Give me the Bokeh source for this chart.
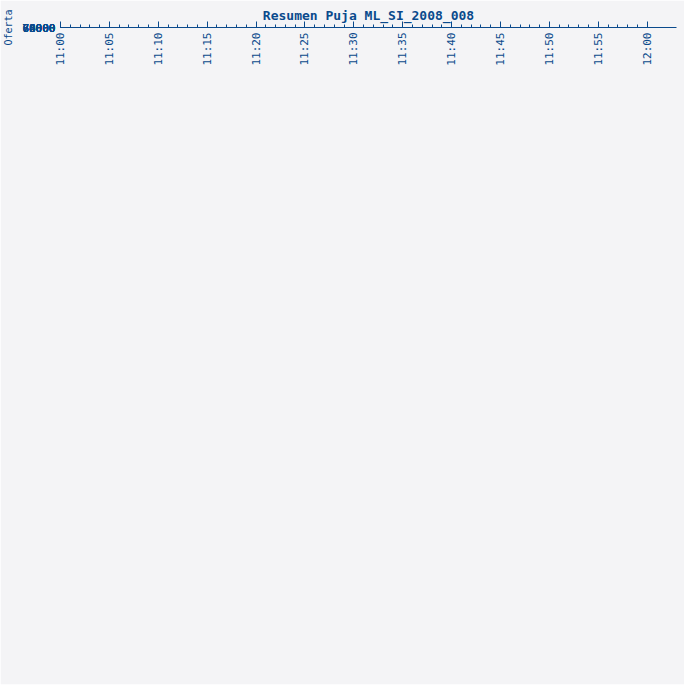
from bokeh.plotting import figure
from bokeh.models import Legend, LegendItem, Label, FixedTicker, ColumnDataSource
from bokeh.embed import file_html
from bokeh.resources import INLINE

series = ["Campoverde Garcia Domicio Djadimir", "ICEBERGCORP S.A.", "FAVEN MUEBLES"]
times = [[29.4, 60.0], [5.1, 11.4, 59.3], [3.1, 59.9]]
values = [[69750.0, 65000.0], [74884.5, 70724.2, 66564.0], [79043.0, 69700.0]]
colors = ["#e89c10", "#f4b07a", "#d0407c"]
xticks = list(range(0, 61, 5))
xlabels = ["11:%02d" % m if m < 60 else "12:00" for m in xticks]

FONT = "DejaVu Sans Mono"
BLUE = "#0a4a8c"
p = figure(width=684, height=684, output_backend="svg", toolbar_location=None,
           x_range=(0, 63), y_range=(64000, 80000),
           min_border_left=54, min_border_top=23, min_border_right=8, min_border_bottom=40,
           background_fill_color="white", border_fill_color="#f4f4f6")
p.outline_line_color = None
p.title.text = "Resumen Puja ML_SI_2008_008"
p.title.align = "center"
p.title.text_font = FONT
p.title.text_font_size = "13px"
p.title.text_color = BLUE

p.xgrid.grid_line_color = None
p.ygrid.grid_line_color = "#e2e2e2"

for ax in (p.xaxis[0], p.yaxis[0]):
    ax.axis_line_color = BLUE
    ax.major_tick_line_color = BLUE
    ax.minor_tick_line_color = BLUE
    ax.major_label_text_color = BLUE
    ax.major_label_text_font = FONT
    ax.major_label_text_font_size = "11px"
    ax.axis_label_text_font = FONT
    ax.axis_label_text_color = BLUE
    ax.axis_label_text_font_size = "10px"
    ax.axis_label_text_font_style = "normal"
    ax.major_tick_in = 6
    ax.major_tick_out = 0
    ax.minor_tick_in = 3
    ax.minor_tick_out = 0

p.xaxis.ticker = FixedTicker(ticks=xticks, minor_ticks=list(range(0, 61)))
p.xaxis.major_label_overrides = {t: l for t, l in zip(xticks, xlabels)}
p.xaxis.major_label_orientation = 1.5708
p.yaxis.ticker = FixedTicker(ticks=list(range(64000, 80001, 2000)),
                             minor_ticks=list(range(64000, 80001, 500)))
p.yaxis.axis_label = "Oferta"

items = []
for name, xs, ys, c in zip(series, times, values, colors):
    src = ColumnDataSource(dict(x=xs, y=ys, t=["%.1f" % v for v in ys]))
    r1 = p.line("x", "y", source=src, color=c, line_width=1)
    r2 = p.scatter("x", "y", source=src, marker="diamond", size=6, color=c)
    p.text("x", "y", text="t", source=src, text_font_size="11px",
           text_color="#000066", text_align="center", text_baseline="bottom",
           y_offset=-5, text_font={"value": FONT})
    items.append(LegendItem(label=name, renderers=[r1, r2]))

legend = Legend(items=items, location=(167, 0), label_text_font=FONT,
                label_text_font_size="11px", label_text_color=BLUE,
                border_line_color="black", border_line_width=2,
                glyph_height=14, label_height=14, spacing=0, padding=3,
                margin=4, background_fill_alpha=1)
p.add_layout(legend, "below")

p.add_layout(Label(x=562, y=-62, x_units="screen", y_units="screen", text="Tiempo",
                   text_font=FONT, text_font_size="10px", text_color=BLUE))

open("out.html", "w").write(file_html(p, INLINE))
